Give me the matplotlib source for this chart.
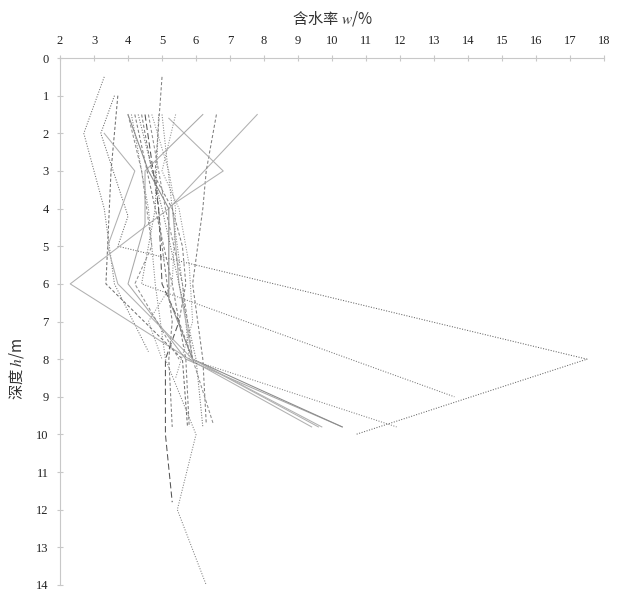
import matplotlib
matplotlib.use("Agg")
import matplotlib.pyplot as plt

plt.rcParams['mathtext.fontset'] = 'stix'

# moisture content w (%) against depth h (m) for each borehole
zk1_h = [0.5, 2, 4, 6, 7.8]
zk1_w = [3.3, 2.7, 3.3, 3.6, 4.6]
zk2_h = [1, 2, 4.2, 5, 8, 10]
zk2_w = [3.6, 3.2, 4.0, 3.7, 17.5, 10.7]
zk3_h = [1, 3, 5, 6, 8, 9.8]
zk3_w = [3.7, 3.5, 3.4, 3.35, 5.6, 5.75]
zk4_h = [1.5, 4, 6, 8, 9.8]
zk4_w = [7.8, 5.2, 2.3, 5.8, 9.4]
zk5_h = [1.5, 4, 5, 6, 9]
zk5_w = [4.9, 4.8, 4.6, 4.4, 13.6]
zk6_h = [1.5, 4, 6, 8, 9.8]
zk6_w = [5.0, 5.3, 5.6, 5.8, 11.9]
zk7_h = [0.5, 3, 5, 7, 8, 9.8]
zk7_w = [5.0, 4.8, 5.0, 5.3, 5.2, 5.3]
zk8_h = [1.5, 4, 6, 7, 8, 10, 11.8]
zk8_w = [4.5, 4.9, 5.0, 5.5, 5.1, 5.1, 5.3]
zk9_h = [1.5, 4, 6, 8, 10, 12, 14]
zk9_w = [4.1, 4.6, 4.8, 5.1, 6.0, 5.45, 6.3]
zk10_h = [1.5, 3, 4, 6, 8, 9.7]
zk10_w = [6.6, 6.3, 6.2, 5.9, 6.2, 6.3]
zk11_h = [1.6, 3, 3.9, 6, 8, 9.8]
zk11_w = [5.2, 6.8, 5.3, 5.5, 5.9, 9.7]
zk12_h = [1.5, 3, 4.4, 6, 8, 9.8]
zk12_w = [6.2, 4.5, 4.5, 4.0, 5.7, 10.3]
zk13_h = [1.5, 3, 4, 6.4, 8, 9.8]
zk13_w = [4.0, 4.6, 5.2, 5.2, 5.9, 10.3]
zk14_h = [1.5, 4, 6, 8, 9.8]
zk14_w = [4.2, 4.8, 5.3, 5.7, 5.8]
zk15_h = [1.5, 4, 6, 8, 9.8]
zk15_w = [4.3, 5.0, 5.5, 6.0, 6.2]
zk16_h = [1.5, 4, 6, 8, 9.7]
zk16_w = [4.6, 5.1, 5.6, 5.9, 6.5]
zk17_h = [2, 3, 5, 6, 7, 8, 9.8]
zk17_w = [3.3, 4.2, 3.4, 3.7, 4.8, 5.9, 9.6]
zk18_h = [1.5, 3, 5, 6, 8]
zk18_w = [4.0, 4.4, 4.7, 4.2, 5.5]
zk19_h = [1.5, 3, 4, 5.5, 7, 8.5]
zk19_w = [5.4, 5.0, 5.5, 5.8, 5.9, 5.4]
zk20_h = [1.5, 3, 4, 5, 6, 7, 8]
zk20_w = [4.4, 4.7, 5.3, 5.6, 5.7, 5.5, 5.9]
zk21_h = [1.5, 3, 4, 6, 7, 8]
zk21_w = [4.7, 5.2, 5.4, 5.3, 4.6, 5.0]

x_ticks = list(range(2, 19))
y_ticks = list(range(0, 15))

holes = [
    (zk1_w, zk1_h), (zk2_w, zk2_h), (zk3_w, zk3_h), (zk4_w, zk4_h),
    (zk5_w, zk5_h), (zk6_w, zk6_h), (zk7_w, zk7_h), (zk8_w, zk8_h),
    (zk9_w, zk9_h), (zk10_w, zk10_h), (zk11_w, zk11_h), (zk12_w, zk12_h),
    (zk13_w, zk13_h), (zk14_w, zk14_h), (zk15_w, zk15_h), (zk16_w, zk16_h),
    (zk17_w, zk17_h), (zk18_w, zk18_h), (zk19_w, zk19_h), (zk20_w, zk20_h),
    (zk21_w, zk21_h),
]

dot = (0, (1, 1.5))
dash = (0, (3, 2))
longdash = (0, (6, 3))
styles = [
    (dot, '#707070'), (dot, '#666666'), (dash, '#707070'), ('-', '#b0b0b0'),
    (dot, '#777777'), (dot, '#808080'), (dash, '#808080'), (longdash, '#555555'),
    (dot, '#808080'), (dash, '#808080'), ('-', '#b0b0b0'), ('-', '#a8a8a8'),
    ('-', '#8a8a8a'), (dash, '#808080'), (dot, '#707070'), (dash, '#909090'),
    ('-', '#b0b0b0'), (dash, '#909090'), (dot, '#909090'), (dash, '#808080'),
    (dot, '#909090'),
]

fig = plt.figure(figsize=(6.22, 5.93), dpi=100)
ax = fig.add_axes([0.0965, 0.0135, 0.8746, 0.8886])

for (w, h), (ls, c) in zip(holes, styles):
    ax.plot(w, h, linestyle=ls, color=c, linewidth=0.75)

ax.set_xlim(2, 18)
ax.set_ylim(14, 0)
ax.set_xticks(x_ticks)
ax.set_yticks(y_ticks)
ax.xaxis.tick_top()
ax.xaxis.set_label_position('top')

for s in ['right', 'bottom']:
    ax.spines[s].set_visible(False)
for s in ['top', 'left']:
    ax.spines[s].set_color('#c8c8c8')
    ax.spines[s].set_linewidth(0.8)

ax.tick_params(direction='inout', length=4, width=0.8, color='#c8c8c8',
               labelsize=9, labelcolor='#222222', pad=6)
for lab in ax.get_xticklabels() + ax.get_yticklabels():
    lab.set_family('Liberation Serif')

ax.set_xlabel('含水率 $w$/%', family=['Noto Sans CJK SC', 'DejaVu Sans'],
              fontsize=11, color='#333333', labelpad=8)
ax.set_ylabel('深度 $h$/m', family=['Noto Sans CJK SC', 'DejaVu Sans'],
              fontsize=11, color='#333333')
ax.yaxis.set_label_coords(-0.062, 0.41)

fig.savefig('out.png', dpi=100)
